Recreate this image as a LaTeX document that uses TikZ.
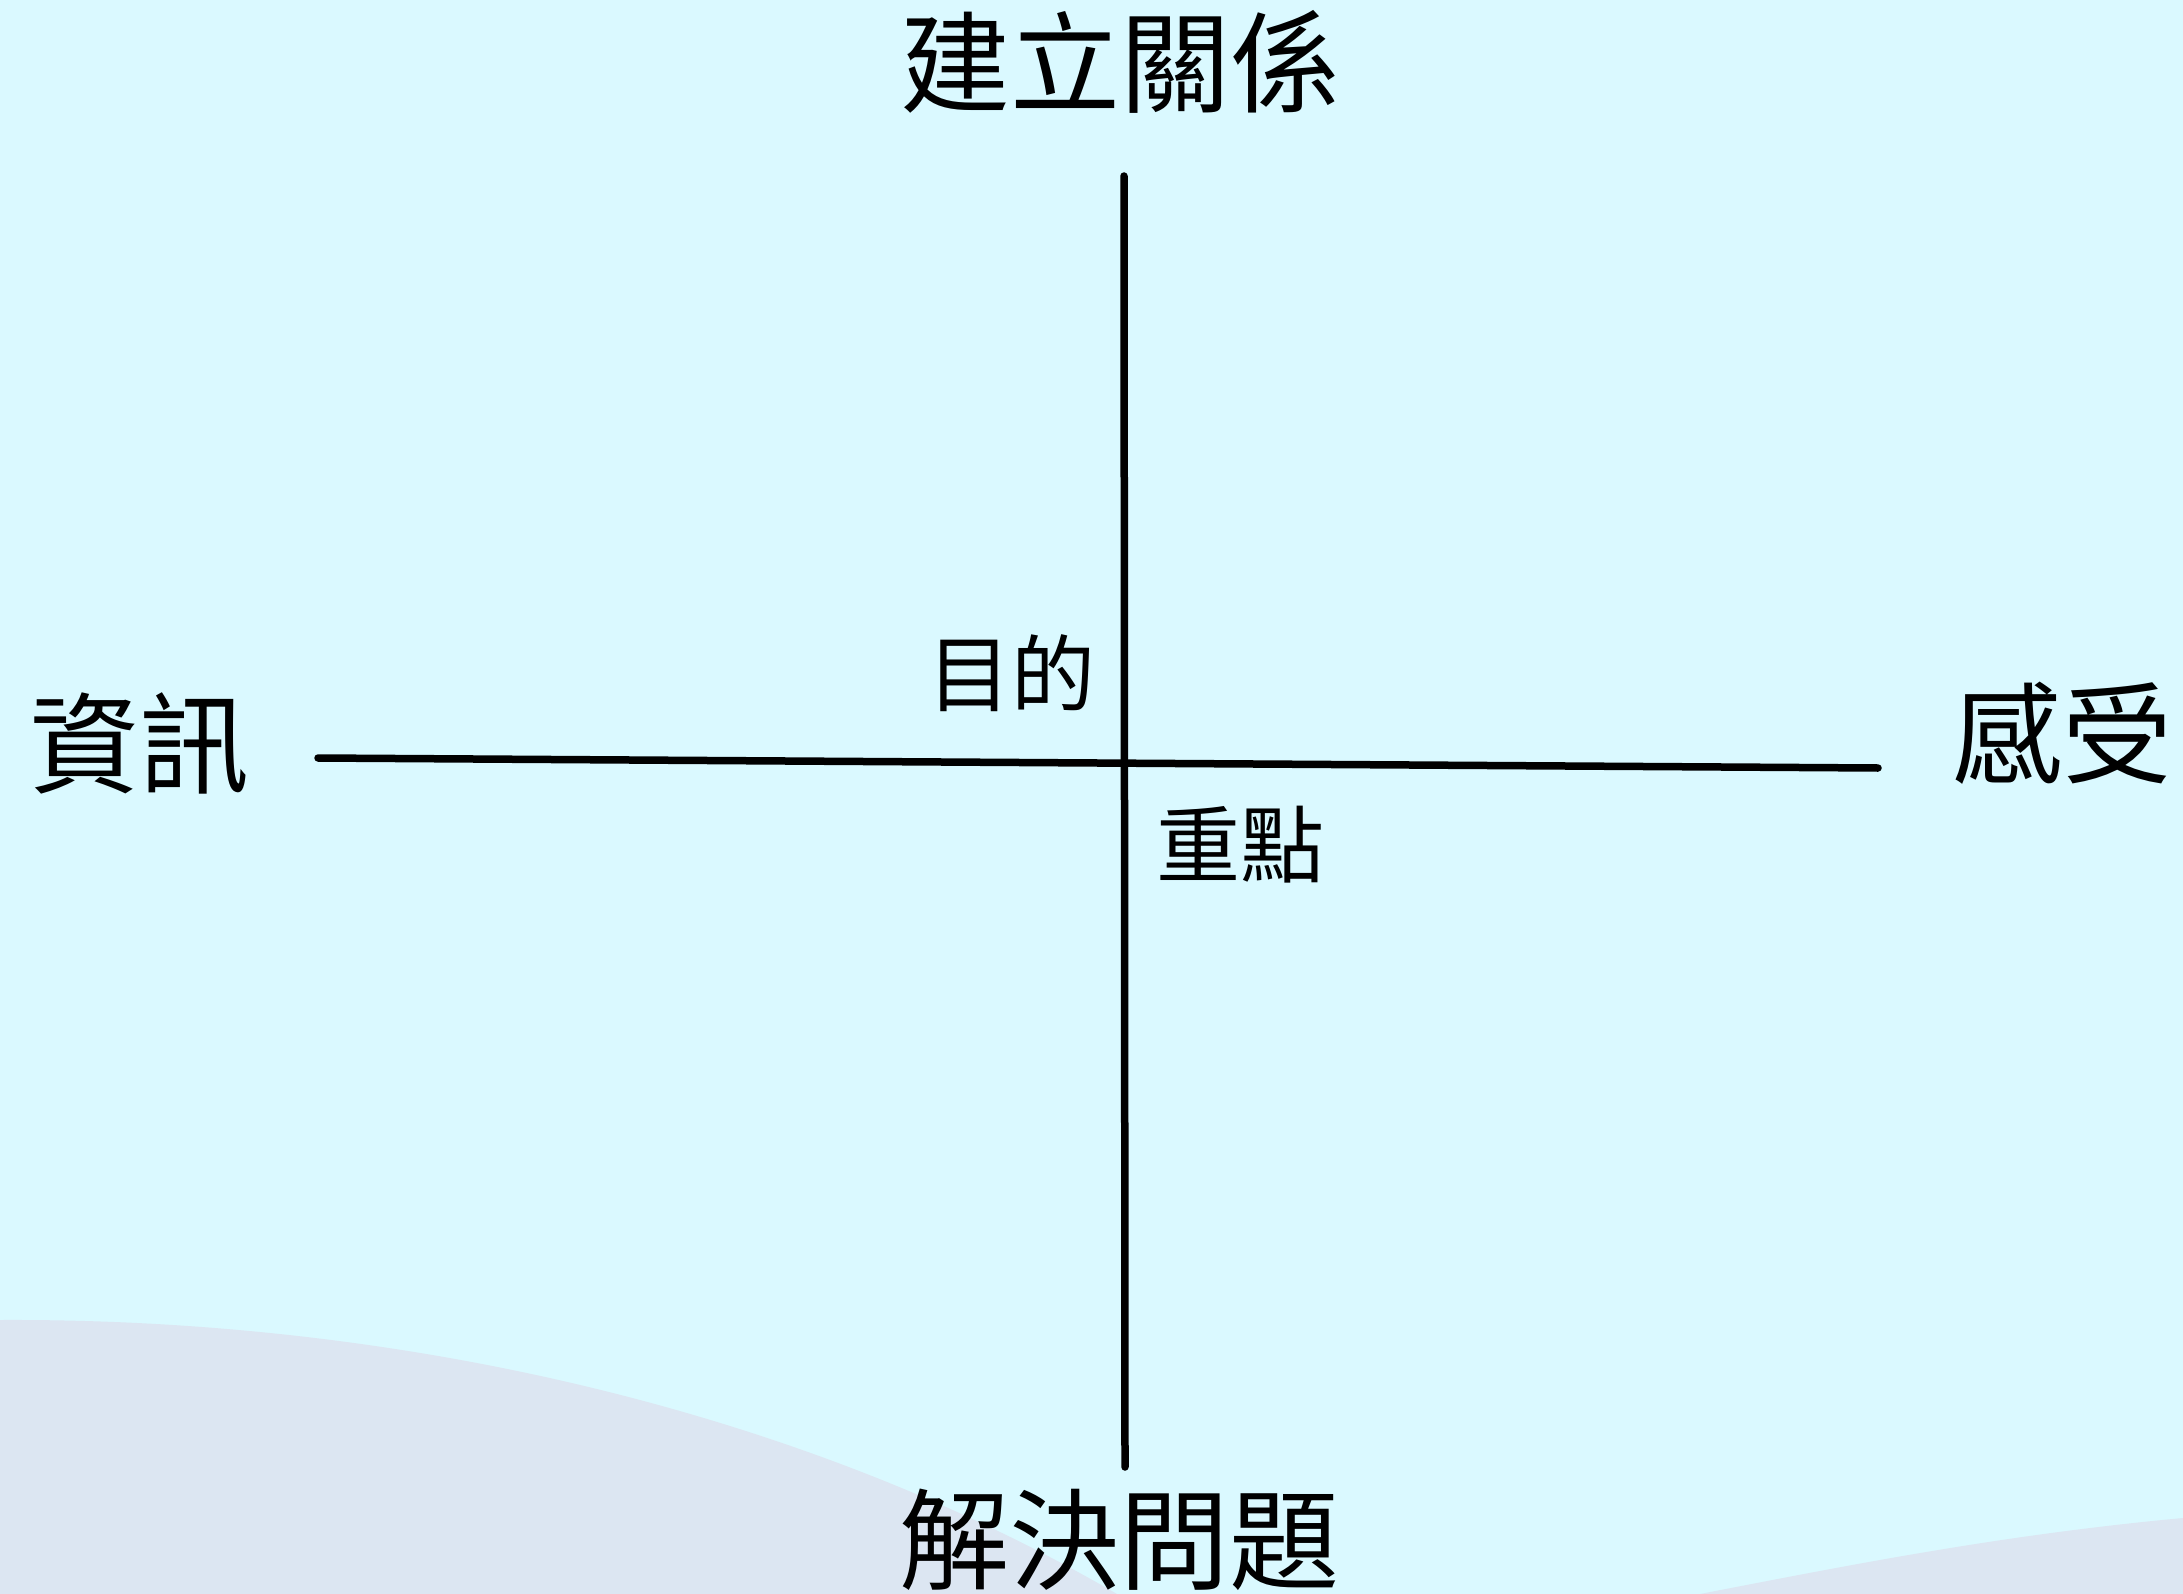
\documentclass[tikz,border=0pt]{standalone}
\usepackage{fontspec}
\newfontfamily\cjk{Noto Sans CJK TC}
\definecolor{bgcyan}{HTML}{DAF9FF}
\definecolor{wavefill}{HTML}{DCE6F2}
\tikzset{
  biglabel/.style={font=\cjk\fontsize{110}{120}\selectfont, inner sep=0pt, text=black},
  smalllabel/.style={font=\cjk\fontsize{84}{90}\selectfont, inner sep=0pt, text=black},
  axisline/.style={line width=7.5pt, line cap=round, draw=black}
}
\begin{document}
\begin{tikzpicture}[x=1pt,y=-1pt]
  \useasboundingbox (0,0) rectangle (2183,1594);
  \fill[bgcyan] (0,0) rectangle (2183,1594);
  % bottom-left wave
  \fill[wavefill] (0,1320) .. controls (400,1318) and (800,1410) .. (1117,1594) -- (0,1594) -- cycle;
  % bottom-right wave
  \fill[wavefill] (1700,1594) .. controls (1850,1565) and (2000,1535) .. (2183,1518) -- (2183,1594) -- cycle;
  % axes
  \coordinate (top) at (1124,176);
  \coordinate (bottom) at (1125,1467);
  \coordinate (left) at (318,758);
  \coordinate (right) at (1878,768);
  \draw[axisline] (top) -- (bottom);
  \draw[axisline] (left) -- (right);
  % labels
  \node[biglabel] (rel) at (1120,62) {建立關係};
  \node[biglabel] (solve) at (1119,1540) {解決問題};
  \node[biglabel] (info) at (139,743) {資訊};
  \node[biglabel] (feel) at (2062,733) {感受};
  \node[smalllabel] (purpose) at (1011,673) {目的};
  \node[smalllabel] (focus) at (1240,845) {重點};
\end{tikzpicture}
\end{document}
